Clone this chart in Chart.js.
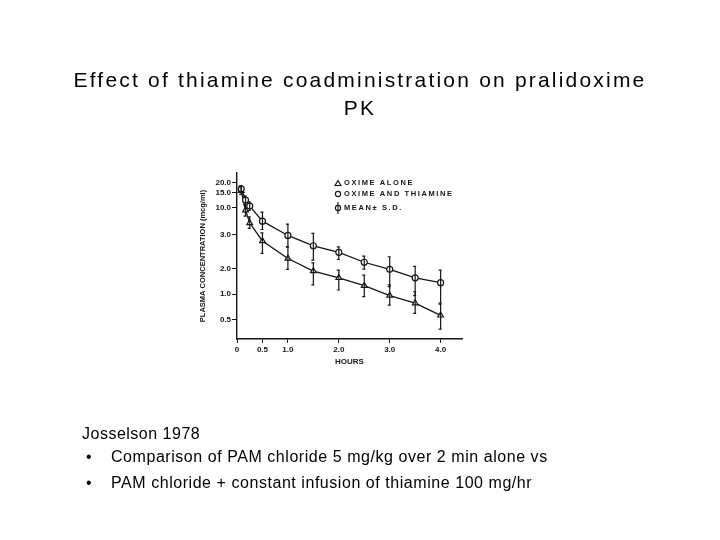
<!DOCTYPE html>
<html>
<head>
<meta charset="utf-8">
<script src="https://cdn.jsdelivr.net/npm/chart.js@4/dist/chart.umd.min.js"></script>
<style>
  html, body { margin: 0; padding: 0; background: #fff; }
  #wrap { position: relative; width: 720px; height: 540px; overflow: hidden; font-family: "Liberation Sans", Arial, sans-serif; color: #000; }
  #chart { position: absolute; left: 0; top: 0; }
  .title { position: absolute; left: 0; width: 720px; top: 66px; text-align: center; font-size: 21px; line-height: 28px; letter-spacing: 2.2px; }
  .src { position: absolute; left: 82px; top: 425px; font-size: 16px; letter-spacing: 0.5px; }
  .bul { position: absolute; left: 86px; font-size: 16px; }
  .bul span { position: absolute; left: 25px; white-space: nowrap; letter-spacing: 0.55px; }
</style>
</head>
<body>
<div id="wrap">
  <canvas id="chart" width="720" height="540"></canvas>
  <div class="title">Effect of thiamine coadministration on pralidoxime<br>PK</div>
  <div class="src">Josselson 1978</div>
  <div class="bul" style="top:448px">•<span>Comparison of PAM chloride 5 mg/kg over 2 min alone vs</span></div>
  <div class="bul" style="top:474px">•<span>PAM chloride + constant infusion of thiamine 100 mg/hr</span></div>
</div>
<script>
// time points (hours)
const hours = [0.083, 0.167, 0.25, 0.5, 1, 1.5, 2, 2.5, 3, 3.5, 4];

// oxime and thiamine (circles), mean and S.D. limits, mcg/ml
const thiamineMean = [17, 12.6, 10.6, 6.5, 2.97, 2.67, 2.48, 2.19, 1.98, 1.64, 1.45];
const thiamineLow  = [15.5, 11.2, 9.3, 4.3, 2.64, 2.25, 2.27, 1.99, 1.29, 0.97, 0.82];
const thiamineHigh = [18.5, 14, 12, 8.9, 5.7, 3.26, 2.64, 2.37, 2.35, 2.07, 1.95];

// oxime alone (triangles)
const aloneMean = [16, 9.4, 6.0, 2.81, 2.30, 1.91, 1.64, 1.33, 0.97, 0.82, 0.58];
const aloneLow  = [14.5, 7.8, 4.6, 2.45, 1.98, 1.36, 1.16, 0.95, 0.78, 0.62, 0.25];
const aloneHigh = [17.5, 11, 7.6, 3.42, 2.64, 2.17, 1.95, 1.75, 1.36, 1.09, 0.80];

// axis ticks as printed on the figure
const xTicks = [0, 0.5, 1, 2, 3, 4];
const xTickLabels = ['0', '0.5', '1.0', '2.0', '3.0', '4.0'];
const yTicks = [0.5, 1, 2, 3, 10, 15, 20];
const yTickLabels = ['0.5', '1.0', '2.0', '3.0', '10.0', '15.0', '20.0'];

// the hand drawn y axis is not uniform: value -> fraction of axis height
const yKnotValues = [0, 0.5, 1, 2, 3, 10, 15, 20, 24];
const yKnotFrac   = [0, 0.118, 0.271, 0.423, 0.630, 0.790, 0.880, 0.942, 1];

class BentScale extends Chart.LinearScale {
  buildTicks() {
    return yTicks.map(v => ({ value: v }));
  }
  getPixelForValue(value) {
    if (value === null || isNaN(value)) return NaN;
    let dec = 0;
    for (let i = 0; i < yKnotValues.length - 1; i++) {
      const a = yKnotValues[i], b = yKnotValues[i + 1];
      if (value <= b || i === yKnotValues.length - 2) {
        const t = (value - a) / (b - a);
        dec = yKnotFrac[i] + t * (yKnotFrac[i + 1] - yKnotFrac[i]);
        break;
      }
    }
    return this.getPixelForDecimal(dec);
  }
  getValueForPixel(pixel) {
    const dec = this.getDecimalForPixel(pixel);
    for (let i = 0; i < yKnotFrac.length - 1; i++) {
      if (dec <= yKnotFrac[i + 1] || i === yKnotFrac.length - 2) {
        const t = (dec - yKnotFrac[i]) / (yKnotFrac[i + 1] - yKnotFrac[i]);
        return yKnotValues[i] + t * (yKnotValues[i + 1] - yKnotValues[i]);
      }
    }
  }
}
BentScale.id = 'bent';
BentScale.defaults = {};
Chart.register(BentScale);

const ink = '#151515';

// mean ± S.D. bars and the little legend in the corner
const errorBars = {
  id: 'errorBars',
  afterDatasetsDraw(chart) {
    const ctx = chart.ctx;
    const x = chart.scales.x, y = chart.scales.y;
    ctx.save();
    ctx.strokeStyle = ink;
    ctx.lineWidth = 1.2;
    chart.data.datasets.forEach(ds => {
      ds.low.forEach((lo, i) => {
        const px = x.getPixelForValue(hours[i]);
        const top = y.getPixelForValue(ds.high[i]);
        const bot = y.getPixelForValue(lo);
        ctx.beginPath();
        ctx.moveTo(px, top); ctx.lineTo(px, bot);
        ctx.moveTo(px - 2, top); ctx.lineTo(px + 1, top);
        ctx.moveTo(px - 2, bot); ctx.lineTo(px + 1, bot);
        ctx.stroke();
      });
    });

    // legend
    const lx = 338;
    ctx.fillStyle = ink;
    ctx.font = 'bold 7.5px "Liberation Sans", Arial, sans-serif';
    ctx.textBaseline = 'middle';
    const rows = [['OXIME ALONE', 183], ['OXIME AND THIAMINE', 194], ['MEAN\u00B1 S.D.', 208]];
    rows.forEach(([t, yy]) => {
      ctx.letterSpacing = '1.6px';
      ctx.fillText(t, lx + 6, yy);
    });
    ctx.lineWidth = 1.1;
    ctx.beginPath();
    ctx.moveTo(lx, 180.5); ctx.lineTo(lx + 3, 185.5); ctx.lineTo(lx - 3, 185.5); ctx.closePath();
    ctx.stroke();
    ctx.beginPath(); ctx.arc(lx, 194, 2.6, 0, Math.PI * 2); ctx.stroke();
    ctx.beginPath(); ctx.arc(lx, 208, 2.6, 0, Math.PI * 2); ctx.stroke();
    ctx.beginPath(); ctx.moveTo(lx, 202); ctx.lineTo(lx, 214); ctx.stroke();
    ctx.restore();
  }
};

new Chart(document.getElementById('chart'), {
  type: 'line',
  data: {
    datasets: [
      {
        label: 'OXIME AND THIAMINE',
        data: hours.map((h, i) => ({ x: h, y: thiamineMean[i] })),
        low: thiamineLow, high: thiamineHigh,
        borderColor: ink, borderWidth: 1.3,
        pointStyle: 'circle', pointRadius: 3, pointBorderWidth: 1.2,
        pointBorderColor: ink, pointBackgroundColor: '#fff',
        tension: 0,
      },
      {
        label: 'OXIME ALONE',
        data: hours.map((h, i) => ({ x: h, y: aloneMean[i] })),
        low: aloneLow, high: aloneHigh,
        borderColor: ink, borderWidth: 1.3,
        pointStyle: 'triangle', pointRadius: 3.3, pointBorderWidth: 1.2,
        pointBorderColor: ink, pointBackgroundColor: '#fff',
        tension: 0,
      },
    ]
  },
  options: {
    responsive: false,
    animation: false,
    layout: { padding: { left: 198, top: 173, right: 258, bottom: 171 } },
    plugins: { legend: { display: false }, tooltip: { enabled: false } },
    scales: {
      x: {
        type: 'linear', min: 0, max: 4.42,
        afterBuildTicks: s => { s.ticks = xTicks.map(v => ({ value: v })); },
        afterFit: s => { s.height = 30; },
        grid: { drawOnChartArea: false, tickLength: 4, color: ink },
        border: { color: ink, width: 1.4 },
        ticks: {
          color: ink, padding: 2, maxRotation: 0, autoSkip: false,
          font: { family: '"Liberation Sans", Arial', size: 8, weight: 'bold' },
          callback: (v, i) => xTickLabels[i],
        },
        title: {
          display: true, text: 'HOURS', color: ink,
          font: { family: '"Liberation Sans", Arial', size: 8, weight: 'bold' },
          padding: { top: 4, bottom: 2 },
        },
      },
      y: {
        type: 'bent', min: 0, max: 24,
        afterFit: s => { s.width = 39; },
        grid: { drawOnChartArea: false, tickLength: 5, color: ink },
        border: { color: ink, width: 1.4 },
        ticks: {
          color: ink, padding: 1, autoSkip: false,
          font: { family: '"Liberation Sans", Arial', size: 8, weight: 'bold' },
          callback: (v, i) => yTickLabels[i],
        },
        title: {
          display: true, text: 'PLASMA CONCENTRATION (mcg/ml)', color: ink,
          font: { family: '"Liberation Sans", Arial', size: 7.5, weight: 'bold' },
          padding: { top: 0, bottom: 0 },
        },
      },
    },
  },
  plugins: [errorBars],
});
</script>
</body>
</html>
